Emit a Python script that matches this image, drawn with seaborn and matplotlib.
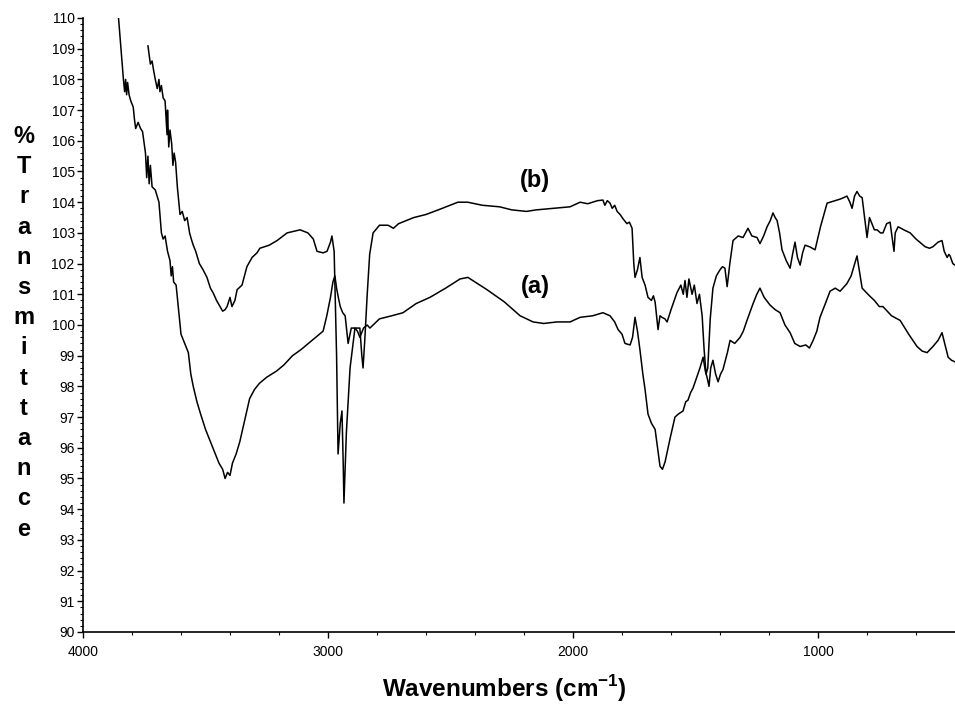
import pandas as pd
import matplotlib
matplotlib.use('Agg')
import matplotlib.pyplot as plt
from matplotlib.ticker import MultipleLocator
import seaborn as sns

# spectrum (a): wavenumber (cm-1) / %T
wn_a = [3858, 3845, 3835, 3830, 3826, 3822, 3818, 3812, 3805, 3795,
        3790, 3785, 3775, 3765, 3757, 3745, 3740, 3735, 3730, 3725,
        3718, 3705, 3690, 3680, 3673, 3665, 3655, 3645, 3640, 3635,
        3630, 3620, 3610, 3600, 3585, 3570, 3560, 3550, 3535, 3520,
        3500, 3480, 3460, 3445, 3430, 3420, 3410, 3400, 3390, 3375,
        3360, 3340, 3320, 3300, 3280, 3250, 3210, 3180, 3145, 3110,
        3080, 3050, 3020, 3005, 2990, 2980, 2972, 2965, 2958, 2950,
        2940, 2930, 2918, 2905, 2890, 2880, 2870, 2855, 2840, 2829,
        2790, 2740, 2694, 2640, 2584, 2520, 2461, 2429, 2390, 2351,
        2280, 2216, 2163, 2120, 2065, 2012, 1971, 1920, 1878, 1849,
        1830, 1816, 1800, 1788, 1767, 1757, 1747, 1737, 1727, 1715,
        1706, 1694, 1680, 1665, 1655, 1645, 1635, 1624, 1604, 1584,
        1570, 1551, 1540, 1531, 1520, 1510, 1495, 1482, 1469, 1460,
        1453, 1445, 1438, 1429, 1418, 1408, 1398, 1388, 1370, 1359,
        1340, 1318, 1305, 1290, 1265, 1250, 1237, 1220, 1196, 1175,
        1155, 1135, 1114, 1095, 1073, 1050, 1035, 1020, 1005, 992,
        970, 951, 930, 910, 882, 865, 850, 841, 830, 820,
        808, 790, 770, 750, 735, 700, 665, 630, 596, 575,
        555, 531, 510, 494, 480, 469, 455, 441]
t_a = [110.3, 109.0, 108.0, 107.6, 108.0, 107.5, 107.9, 107.5, 107.3, 107.1,
       106.7, 106.4, 106.6, 106.4, 106.3, 105.6, 104.8, 105.5, 104.6, 105.2,
       104.5, 104.4, 104.0, 103.0, 102.8, 102.9, 102.4, 102.1, 101.6, 101.9,
       101.4, 101.3, 100.5, 99.7, 99.4, 99.1, 98.4, 98.0, 97.5, 97.1,
       96.6, 96.2, 95.8, 95.5, 95.3, 95.0, 95.2, 95.1, 95.5, 95.8,
       96.2, 96.9, 97.6, 97.9, 98.1, 98.3, 98.5, 98.7, 99.0, 99.2,
       99.4, 99.6, 99.8, 100.3, 100.9, 101.4, 101.6, 101.2, 100.9, 100.6,
       100.4, 100.3, 99.4, 99.9, 99.9, 99.8, 99.6, 99.9, 100.0, 99.9,
       100.2, 100.3, 100.4, 100.7, 100.9, 101.2, 101.5, 101.55, 101.35, 101.15,
       100.75, 100.3, 100.1, 100.05, 100.1, 100.1, 100.25, 100.3, 100.4, 100.3,
       100.1, 99.85, 99.7, 99.4, 99.35, 99.6, 100.25, 99.8, 99.2, 98.4,
       97.9, 97.1, 96.8, 96.6, 96.0, 95.4, 95.3, 95.55, 96.3, 97.0,
       97.1, 97.2, 97.5, 97.55, 97.8, 97.95, 98.3, 98.6, 98.95, 98.5,
       98.3, 98.0, 98.6, 98.85, 98.4, 98.15, 98.4, 98.55, 99.1, 99.5,
       99.4, 99.6, 99.8, 100.15, 100.7, 101.0, 101.2, 100.9, 100.65, 100.5,
       100.4, 100.0, 99.75, 99.4, 99.3, 99.35, 99.25, 99.5, 99.8, 100.25,
       100.7, 101.1, 101.2, 101.1, 101.35, 101.6, 102.0, 102.25, 101.7, 101.2,
       101.1, 100.95, 100.8, 100.6, 100.6, 100.3, 100.15, 99.7, 99.3, 99.15,
       99.1, 99.3, 99.5, 99.75, 99.3, 98.95, 98.85, 98.8]

# spectrum (b)
wn_b = [3735, 3725, 3718, 3712, 3705, 3697, 3690, 3686, 3680, 3673,
        3665, 3660, 3657, 3655, 3650, 3645, 3638, 3633, 3628, 3622,
        3615, 3604, 3595, 3585, 3575, 3565, 3558, 3550, 3540, 3525,
        3510, 3494, 3480, 3469, 3455, 3441, 3430, 3420, 3412, 3400,
        3392, 3380, 3371, 3351, 3331, 3310, 3290, 3278, 3240, 3208,
        3167, 3114, 3082, 3060, 3045, 3020, 3004, 2990, 2984, 2975,
        2965, 2959, 2950, 2943, 2938, 2935, 2925, 2910, 2890, 2870,
        2862, 2857, 2850, 2840, 2830, 2816, 2790, 2755, 2733, 2712,
        2650, 2600, 2550, 2470, 2430, 2370, 2300, 2250, 2190, 2150,
        2080, 2012, 1971, 1940, 1900, 1878, 1870, 1860, 1849, 1840,
        1830, 1820, 1808, 1795, 1780, 1770, 1759, 1752, 1747, 1737,
        1727, 1718, 1706, 1694, 1680, 1672, 1665, 1653, 1645, 1637,
        1625, 1616, 1600, 1576, 1560, 1550, 1543, 1535, 1527, 1514,
        1505, 1494, 1484, 1473, 1465, 1457, 1450, 1440, 1429, 1415,
        1400, 1390, 1380, 1371, 1360, 1347, 1326, 1306, 1296, 1286,
        1270, 1249, 1237, 1222, 1208, 1195, 1184, 1175, 1167, 1157,
        1147, 1130, 1114, 1104, 1094, 1084, 1073, 1063, 1053, 1035,
        1012, 990, 963, 930, 910, 895, 882, 870, 861, 851,
        841, 830, 820, 810, 800, 790, 780, 770, 759, 745,
        735, 720, 706, 695, 690, 685, 673, 650, 624, 600,
        563, 545, 531, 510, 494, 485, 473, 466, 461, 450,
        441]
t_b = [109.1, 108.5, 108.6, 108.3, 108.0, 107.7, 108.0, 107.6, 107.8, 107.4,
       107.3, 106.6, 106.2, 107.0, 105.8, 106.35, 105.9, 105.2, 105.6, 105.3,
       104.5, 103.6, 103.7, 103.4, 103.5, 103.0, 102.8, 102.6, 102.4, 102.0,
       101.8, 101.55, 101.2, 101.05, 100.8, 100.6, 100.45, 100.5, 100.6, 100.9,
       100.6, 100.8, 101.15, 101.3, 101.9, 102.2, 102.35, 102.5, 102.6, 102.75,
       103.0, 103.1, 103.0, 102.8, 102.4, 102.35, 102.4, 102.7, 102.9, 102.4,
       99.0, 95.8, 96.8, 97.2, 95.5, 94.2, 96.5, 98.6, 99.9, 99.9,
       99.0, 98.6, 99.5, 101.0, 102.3, 103.0, 103.25, 103.25, 103.15, 103.3,
       103.5, 103.6, 103.75, 104.0, 104.0, 103.9, 103.85, 103.75, 103.7, 103.75,
       103.8, 103.85, 104.0, 103.95, 104.05, 104.07, 103.9, 104.05, 103.97, 103.8,
       103.9, 103.7, 103.6, 103.45, 103.3, 103.35, 103.15, 102.0, 101.55, 101.8,
       102.2, 101.55, 101.3, 100.9, 100.8, 100.95, 100.75, 99.85, 100.3, 100.25,
       100.2, 100.1, 100.5, 101.05, 101.3, 101.0, 101.45, 100.9, 101.5, 101.0,
       101.3, 100.7, 101.0, 100.3, 99.2, 98.4, 98.6, 100.2, 101.2, 101.6,
       101.8, 101.9, 101.85, 101.25, 102.0, 102.75, 102.9, 102.85, 103.0, 103.15,
       102.9, 102.85, 102.65, 102.9, 103.2, 103.4, 103.65, 103.5, 103.4, 103.0,
       102.45, 102.1, 101.85, 102.3, 102.7, 102.2, 101.95, 102.35, 102.6, 102.55,
       102.45, 103.2, 103.97, 104.05, 104.1, 104.15, 104.2, 104.0, 103.8, 104.2,
       104.35, 104.2, 104.15, 103.5, 102.85, 103.5, 103.3, 103.1, 103.1, 103.0,
       103.0, 103.3, 103.35, 102.7, 102.4, 103.0, 103.2, 103.1, 103.0, 102.8,
       102.55, 102.5, 102.55, 102.7, 102.75, 102.4, 102.2, 102.3, 102.25, 102.0,
       101.95]

labels = ['(a)', '(b)']
label_pos = [(2155, 101.27), (2155, 104.72)]

sns.set_style('ticks')
plt.rcParams['font.family'] = ['Liberation Sans', 'DejaVu Sans']
plt.rcParams['text.color'] = 'black'
plt.rcParams['mathtext.fontset'] = 'custom'
plt.rcParams['mathtext.bf'] = 'Liberation Sans:bold'
plt.rcParams['mathtext.rm'] = 'Liberation Sans'

df = pd.concat([
    pd.DataFrame({'wn': wn_a, 'T': t_a, 'sample': '(a)'}),
    pd.DataFrame({'wn': wn_b, 'T': t_b, 'sample': '(b)'}),
], ignore_index=True)

W, H = 955, 706
fig = plt.figure(figsize=(W / 100, H / 100), dpi=100)
ax = fig.add_axes([83 / W, (H - 632) / H, (W - 83) / W, (632 - 18) / H])

sns.lineplot(data=df, x='wn', y='T', hue='sample', palette=['black', 'black'],
             estimator=None, sort=False, legend=False, lw=1.1, ax=ax)

ax.set_xlim(4000, 441)
ax.set_ylim(90, 110)
ax.set_xlabel('')
ax.set_ylabel('')
sns.despine(ax=ax)
for s in ['left', 'bottom']:
    ax.spines[s].set_linewidth(1.2)
    ax.spines[s].set_color('black')

ax.yaxis.set_major_locator(MultipleLocator(1))
ax.yaxis.set_minor_locator(MultipleLocator(0.2))
ax.xaxis.set_major_locator(MultipleLocator(1000))
ax.xaxis.set_minor_locator(MultipleLocator(200))
ax.tick_params(which='major', direction='out', length=4, width=1, labelsize=10,
               colors='black', pad=2)
ax.tick_params(which='minor', direction='out', length=2, width=0.8, colors='black')
ax.tick_params(axis='x', pad=5)

for lab, (x, y) in zip(labels, label_pos):
    ax.text(x, y, lab, ha='center', va='center', fontsize=17,
            fontweight='bold', color='black')

# stacked y label
ylab = '%Transmittance'
for i, ch in enumerate(ylab):
    py = 143 + i * 30.2
    fig.text(24 / W, 1 - py / H, ch, ha='center', va='baseline',
             fontsize=17, fontweight='bold', color='black')

fig.text(504 / W, 1 - 697 / H, r'Wavenumbers (cm$^{\mathbf{-1}}$)',
         ha='center', va='baseline', fontsize=17.5, fontweight='bold',
         color='black')

fig.savefig('out.png', dpi=100)
